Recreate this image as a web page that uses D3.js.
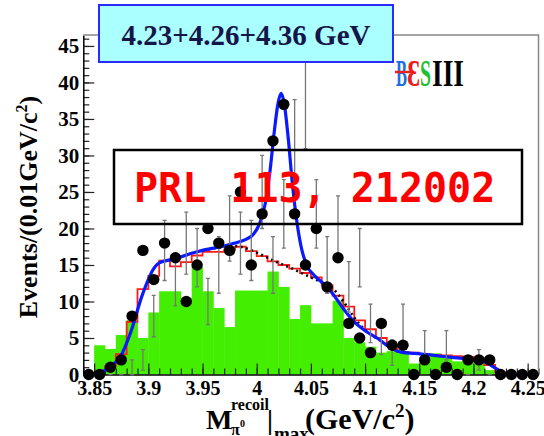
<!DOCTYPE html>
<html>
<head>
<meta charset="utf-8">
<script src="https://cdn.jsdelivr.net/npm/d3@7/dist/d3.min.js"></script>
<style>
body { margin: 0; background: #fff; }
svg text { font-family: "Liberation Serif", "Times New Roman", serif; font-weight: bold; }
</style>
</head>
<body>
<svg width="544" height="436"></svg>
<script>
// recoil mass bins (centres, 0.01 GeV wide)
var binWidth = 0.01;
var massBins = [3.845, 3.855, 3.865, 3.875, 3.885, 3.895, 3.905, 3.915, 3.925, 3.935,
                3.945, 3.955, 3.965, 3.975, 3.985, 3.995, 4.005, 4.015, 4.025, 4.035,
                4.045, 4.055, 4.065, 4.075, 4.085, 4.095, 4.105, 4.115, 4.125, 4.135,
                4.145, 4.155, 4.165, 4.175, 4.185, 4.195, 4.205, 4.215, 4.225, 4.235,
                4.245, 4.255];

// data points
var dataCounts = [0, 0, 1, 2, 8, 17, 13, 18, 16, 10,
                  15, 20, 18, 17, 25, 15, 22, 32, 37, 22,
                  15, 20, 12, 16, 7, 5, 3, 7, 4, 4,
                  0, 2, 0, 1, 0, 2, 2, 2, 0, 0,
                  0, 0];

// green histogram (background)
var greenBkg = [0, 4, 3.5, 5.4, 7.5, 5, 8.5, 11.4, 11.4, 10.5,
                14.8, 11.4, 9.1, 6.5, 11.5, 11.5, 11.5, 14.1, 12, 7.6,
                9.5, 7, 7, 10.1, 5, 4.4, 3.8, 3, 3.2, 2.9,
                1.5, 2, 2.9, 2.4, 1.8, 2.4, 1.4, 0.6, 0, 0,
                0, 0];

// red histogram (total MC shape)
var redTotal = [0, 0.2, 1.1, 2.8, 7.2, 11.7, 13.5, 15.6, 14.8, 15.4,
                16.3, 16.8, 16.8, 17.1, 17.5, 16.9, 16.2, 15.5, 15, 14.5,
                13.9, 13.3, 12.2, 10.8, 9.3, 7.4, 6.2, 5, 4, 3.1,
                3, 2.8, 2.7, 2.6, 2.5, 2.4, 2.2, 1.3, 0.3, 0,
                0, 0];

// blue fit curve
var fitX = [3.84, 3.85, 3.855, 3.865, 3.874, 3.884, 3.894, 3.905, 3.91, 3.92,
            3.93, 3.94, 3.95, 3.96, 3.97, 3.98, 3.99, 3.997, 4.003, 4.008,
            4.012, 4.016, 4.0195, 4.0225, 4.0255, 4.029, 4.033, 4.037, 4.041, 4.046,
            4.053, 4.061, 4.071, 4.08, 4.09, 4.1, 4.111, 4.12, 4.132, 4.152,
            4.17, 4.19, 4.2, 4.212, 4.22, 4.226, 4.232, 4.26];
var fitY = [0, 0.05, 0.25, 1.1, 2.4, 5.9, 10.7, 14.5, 15.3, 15.7,
            16.1, 16.6, 17.0, 17.3, 17.6, 18.0, 18.5, 19.2, 20.8, 23.5,
            27.5, 33, 37, 38.5, 37, 32.5, 26, 21, 17.5, 15.0,
            13.6, 12.5, 10.9, 9.0, 7.2, 6.0, 5.0, 4.0, 3.1, 2.8,
            2.5, 2.2, 2.0, 1.6, 0.9, 0.35, 0, 0];

// dotted curve (fit without the peak)
var dotX = [3.95, 3.96, 3.97, 3.98, 3.99, 4.0, 4.01, 4.02, 4.03, 4.04, 4.05, 4.06, 4.07, 4.08, 4.09, 4.1, 4.11];
var dotY = [17.0, 17.25, 17.45, 17.6, 17.3, 16.7, 16.0, 15.3, 14.7, 14.0, 13.3, 12.6, 11.8, 10.0, 7.8, 6.1, 5.0];

var xTicks = [3.85, 3.9, 3.95, 4.0, 4.05, 4.1, 4.15, 4.2, 4.25];
var xTickLabels = ['3.85', '3.9', '3.95', '4', '4.05', '4.1', '4.15', '4.2', '4.25'];
var yTicks = [0, 5, 10, 15, 20, 25, 30, 35, 40, 45];


var svg = d3.select('svg');

var x = d3.scaleLinear().domain([3.84, 4.26]).range([83.3, 538.5]);
var y = d3.scaleLinear().domain([0, 46.5]).range([374.5, 35]);

// green histogram
svg.append('g')
  .selectAll('rect')
  .data(massBins)
  .enter()
  .append('rect')
    .attr('x', d => x(d - binWidth / 2))
    .attr('width', d => x(d + binWidth / 2) - x(d - binWidth / 2) + 0.4)
    .attr('y', (d, i) => y(greenBkg[i]))
    .attr('height', (d, i) => y(0) - y(greenBkg[i]))
    .attr('fill', '#44ee00');

// red step histogram
var redPts = [];
massBins.forEach(function(c, i){
  redPts.push([c - binWidth / 2, redTotal[i]]);
  redPts.push([c + binWidth / 2, redTotal[i]]);
});
var line = d3.line().x(d => x(d[0])).y(d => y(d[1]));
svg.append('path')
  .attr('d', line(redPts))
  .attr('fill', 'none')
  .attr('stroke', '#ff1a1a')
  .attr('stroke-width', 1.8);

// axes
var minorX = d3.range(3.84, 4.2601, 0.01);
var minorY = d3.range(0, 46.5, 1);

svg.append('g')
  .attr('transform', 'translate(0,' + y(0) + ')')
  .call(d3.axisBottom(x).tickValues(minorX).tickSize(-6).tickFormat(''))
  .call(g => g.select('.domain').remove());
svg.append('g')
  .attr('transform', 'translate(' + x.range()[0] + ',0)')
  .call(d3.axisLeft(y).tickValues(minorY).tickSize(-6).tickFormat(''))
  .call(g => g.select('.domain').remove());

var xAxis = svg.append('g')
  .attr('transform', 'translate(0,' + y(0) + ')')
  .call(d3.axisBottom(x).tickValues(xTicks).tickSize(-11).tickSizeOuter(0).tickPadding(6)
          .tickFormat((d, i) => xTickLabels[i]));
xAxis.selectAll('text').style('font-size', '20px').attr('fill', '#000');

var yAxis = svg.append('g')
  .attr('transform', 'translate(' + x.range()[0] + ',0)')
  .call(d3.axisLeft(y).tickValues(yTicks).tickSize(-11).tickSizeOuter(0).tickPadding(4));
yAxis.selectAll('text').style('font-size', '21px').attr('fill', '#000');

svg.selectAll('.tick line').attr('stroke', '#222').attr('stroke-width', 1.2);
svg.selectAll('.domain').attr('stroke', '#000').attr('stroke-width', 1.5);

// frame top / right
svg.append('path')
  .attr('d', 'M' + x.range()[0] + ',' + y.range()[1] + 'H' + x.range()[1] + 'V' + y.range()[0])
  .attr('fill', 'none')
  .attr('stroke', '#888')
  .attr('stroke-width', 1.5);

// dotted curve
svg.append('path')
  .attr('d', d3.line().curve(d3.curveMonotoneX).x((d, i) => x(dotX[i])).y((d, i) => y(dotY[i]))(dotX))
  .attr('fill', 'none')
  .attr('stroke', '#000')
  .attr('stroke-width', 2.6)
  .attr('stroke-dasharray', '2,3.5');

// blue fit
svg.append('path')
  .attr('d', d3.line().curve(d3.curveMonotoneX).x((d, i) => x(fitX[i])).y((d, i) => y(fitY[i]))(fitX))
  .attr('fill', 'none')
  .attr('stroke', '#0a1aff')
  .attr('stroke-width', 3.2)
  .attr('stroke-linejoin', 'round');

// data points with errors
var pts = svg.append('g')
  .selectAll('g')
  .data(massBins)
  .enter()
  .append('g');

pts.filter((d, i) => dataCounts[i] > 0)
  .append('path')
    .attr('d', function(d, i){
      var n = dataCounts[i], e = Math.sqrt(n);
      var cx = x(d), y1 = y(n - e), y2 = y(n + e);
      return 'M' + cx + ',' + y1 + 'V' + y2 + 'M' + (cx - 2) + ',' + y1 + 'H' + (cx + 2) + 'M' + (cx - 2) + ',' + y2 + 'H' + (cx + 2);
    })
    .attr('stroke', '#777')
    .attr('stroke-width', 1.3)
    .attr('fill', 'none');

pts.append('circle')
  .attr('cx', d => x(d))
  .attr('cy', (d, i) => y(dataCounts[i]))
  .attr('r', 5.7)
  .attr('fill', '#000');

// y title
svg.append('text')
  .attr('transform', 'translate(37,207) rotate(-90)')
  .attr('text-anchor', 'middle')
  .style('font-size', '26px')
  .html('Events/(0.01GeV/c<tspan dy="-10" font-size="16px">2</tspan><tspan dy="10">)</tspan>');

// x title
var xt = svg.append('g');
xt.append('text').attr('x', 206).attr('y', 429).style('font-size', '28px').text('M');
xt.append('text').attr('x', 231).attr('y', 410).style('font-size', '16px').text('recoil');
xt.append('text').attr('x', 231).attr('y', 435).style('font-size', '16px').text('\u03c0');
xt.append('text').attr('x', 240).attr('y', 427).style('font-size', '10px').text('0');
xt.append('text').attr('x', 267).attr('y', 429).style('font-size', '27px').text('|');
xt.append('text').attr('x', 274).attr('y', 440).style('font-size', '19px').text('max');
xt.append('text').attr('x', 305).attr('y', 429).style('font-size', '30px')
  .html('(GeV/c<tspan dy="-12" font-size="19px">2</tspan><tspan dy="12">)</tspan>');

// energy label box
svg.append('rect')
  .attr('x', 99).attr('y', 5).attr('width', 294).attr('height', 57)
  .attr('fill', '#aaffff')
  .attr('stroke', '#2a2aff')
  .attr('stroke-width', 2);
svg.append('text')
  .attr('x', 246).attr('y', 45)
  .attr('text-anchor', 'middle')
  .attr('fill', '#15154a')
  .style('font-size', '29px')
  .text('4.23+4.26+4.36 GeV');

// BESIII logo
var logo = svg.append('g').style('font-family', '"DejaVu Sans", sans-serif');
logo.append('text').attr('x', 396).attr('y', 86).attr('fill', '#1e6fe6')
  .style('font-size', '38px').attr('textLength', 11).attr('lengthAdjust', 'spacingAndGlyphs').text('B');
logo.append('text').attr('x', 407).attr('y', 86).attr('fill', '#e82020')
  .style('font-size', '38px').attr('textLength', 13).attr('lengthAdjust', 'spacingAndGlyphs').text('\u0190');
logo.append('text').attr('x', 420).attr('y', 86).attr('fill', '#20c030')
  .style('font-size', '38px').attr('textLength', 11).attr('lengthAdjust', 'spacingAndGlyphs').text('S');
logo.append('text').attr('x', 432).attr('y', 86).attr('fill', '#000')
  .style('font-family', '"Liberation Serif", serif')
  .style('font-size', '38px').attr('textLength', 32).attr('lengthAdjust', 'spacingAndGlyphs').text('III');
logo.append('line').attr('x1', 395).attr('x2', 414).attr('y1', 72).attr('y2', 72)
  .attr('stroke', '#e82020').attr('stroke-width', 2.5);

// PRL box
svg.append('rect')
  .attr('x', 114).attr('y', 150).attr('width', 408).attr('height', 74)
  .attr('fill', 'none')
  .attr('stroke', '#000')
  .attr('stroke-width', 2.5);
svg.append('text')
  .attr('x', 134).attr('y', 202)
  .attr('fill', '#ff0000')
  .style('font-family', '"DejaVu Sans Mono", monospace')
  .style('font-size', '40px')
  .text('PRL 113, 212002');
</script>
</body>
</html>
